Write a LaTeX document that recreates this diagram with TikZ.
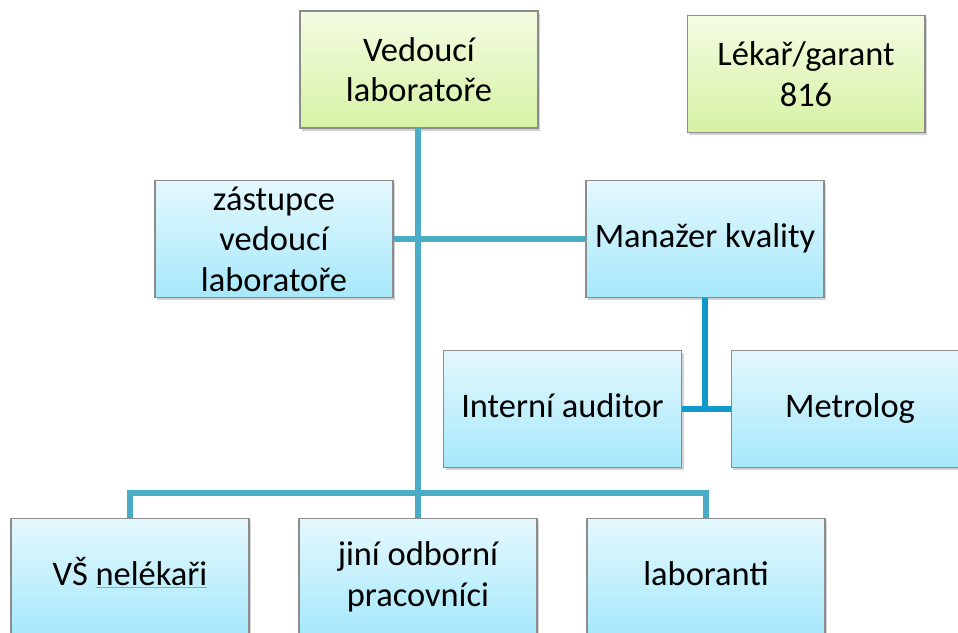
\documentclass[tikz,border=0pt]{standalone}
\usepackage{fontspec}
\setmainfont{Carlito}
\usetikzlibrary{shadows}

\definecolor{linkteal}{HTML}{4BACC6}
\definecolor{linkblue}{HTML}{1199CC}
\definecolor{boxedge}{HTML}{8C8C8C}
\definecolor{greentop}{HTML}{F4FCE2}
\definecolor{greenbot}{HTML}{D6F2A4}
\definecolor{bluetop}{HTML}{E4F8FD}
\definecolor{bluebot}{HTML}{A6E8FB}
\definecolor{spellred}{HTML}{E08AA8}

\tikzset{
  unit/.style={draw=boxedge, line width=0.6pt, minimum width=4.76cm, minimum height=2.34cm,
    align=center, inner sep=2pt, font=\fontsize{19.6}{23}\selectfont,
    drop shadow={shadow xshift=1.2pt, shadow yshift=-1.5pt, opacity=0.35}},
  headbox/.style={unit, top color=greentop, bottom color=greenbot},
  staffbox/.style={unit, top color=bluetop, bottom color=bluebot},
  link/.style={linkteal, line width=3.2pt},
  sublink/.style={linkblue, line width=3.2pt}
}

\begin{document}
\begin{tikzpicture}[x=0.02cm,y=-0.02cm]
    \useasboundingbox (0,0) rectangle (958,633);
    \clip (0,0) rectangle (958,633);
    \fill[white] (0,0) rectangle (958,633); % background

    \coordinate (bus) at (418,493);
    \coordinate (trunk) at (418,127);

    \node[headbox] (lead) at (419,69.5) {Vedoucí\\laboratoře};
    \node[headbox] (garant) at (806,74) {Lékař/garant\\816};
    \node[staffbox] (deputy) at (274,239) {zástupce\\vedoucí\\laboratoře};
    \node[staffbox] (quality) at (705,239) {\strut Manažer kvality};
    \node[staffbox] (auditor) at (562.5,409) {\strut Interní auditor};
    \node[staffbox] (metrolog) at (850,409) {\strut Metrolog};
    \node[staffbox] (vs) at (130,577) {\strut VŠ {\color{spellred}\underline{\color{black}nelékaři}}};
    \node[staffbox] (other) at (418,577) {jiní odborní\\pracovníci};
    \node[staffbox] (lab) at (706,577) {\strut laboranti};

    \draw[link] (trunk) -- (trunk |- other.north); % main trunk
    \draw[link] (deputy.east) -- (deputy.east -| quality.west); % staff line
    \draw[link] (vs.north) -- (vs.north |- bus) -| (lab.north); % bus to the bottom row
    \draw[sublink] (quality.south) -- (quality.south |- auditor.east); % quality branch
    \draw[sublink] (auditor.east) -- (metrolog.west);
  \end{tikzpicture}
\end{document}
